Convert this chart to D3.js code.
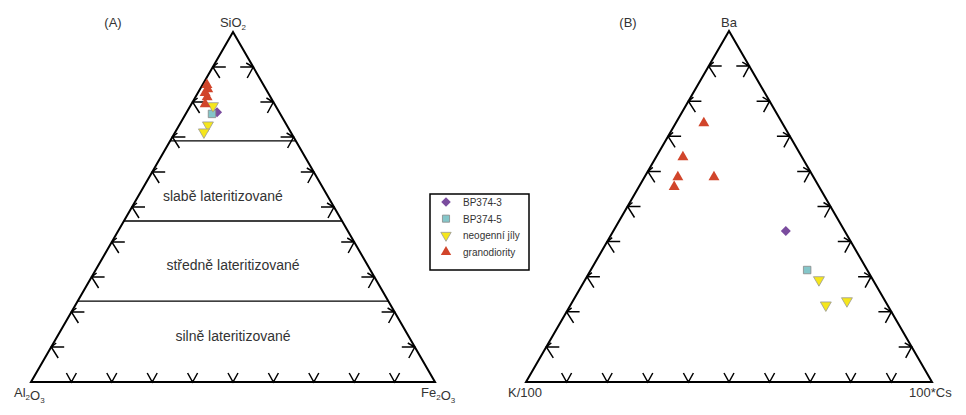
<!DOCTYPE html>
<html>
<head>
<meta charset="utf-8">
<script src="https://cdn.jsdelivr.net/npm/d3@7"></script>
<style>
  html, body { margin: 0; padding: 0; background: #fff; }
  svg text { font-family: "Liberation Sans", Arial, sans-serif; fill: #333; }
</style>
</head>
<body>
<div id="chart"></div>
<script>
// Diagram A: [SiO2, Al2O3, Fe2O3] in %
const bp3A = [[77.1, 15.4, 7.5]];
const bp5A = [[76.6, 16.9, 6.5]];
const jilyA = [[78.9, 15.5, 5.6], [73.4, 19.5, 7.1], [71.4, 21.5, 7.1]];
const granA = [[84.9, 14.0, 1.1], [83.7, 14.4, 1.9], [82.6, 15.6, 1.8], [81.4, 15.7, 2.9], [79.4, 17.2, 3.4]];
// lateritization boundaries (SiO2 %)
const zoneLines = [68.9, 46.0, 23.1];
const zoneLabels = ['slabě lateritizované', 'středně lateritizované', 'silně lateritizované'];
// label anchor [Fe2O3-ish horizontal %, SiO2 %]
const zoneLabelAt = [[47.5, 53.1], [50, 33.4], [50, 13.1]];

// Diagram B: [Ba, K/100, 100*Cs] in %
const bp3B = [[43.0, 14.5, 42.5]];
const bp5B = [[31.9, 14.8, 53.3]];
const jilyB = [[29.1, 13.3, 57.6], [21.9, 15.2, 62.9], [23.1, 9.4, 67.5]];
const granB = [[73.8, 19.3, 6.9], [64.1, 29.3, 6.6], [58.4, 33.4, 8.2], [58.4, 24.5, 17.1], [55.6, 35.7, 8.7]];

const tickSteps = [10, 20, 30, 40, 50, 60, 70, 80, 90];
const legendNames = ['BP374-3', 'BP374-5', 'neogenní jíly', 'granodiority'];

const W = 966, H = 415;
const svg = d3.select('#chart').append('svg')
  .attr('width', W).attr('height', H);

const styles = [
  { type: d3.symbolSquare, size: 50, rot: 45, fill: '#7a4c9e', stroke: 'none' },
  { type: d3.symbolSquare, size: 56, rot: 0, fill: '#84c6c9', stroke: '#888' },
  { type: d3.symbolTriangle, size: 52, rot: 180, fill: '#f5e61c', stroke: '#999' },
  { type: d3.symbolTriangle, size: 52, rot: 0, fill: '#d1452b', stroke: 'none' }
];

function label(g, x, y, parts, anchor) {
  const t = g.append('text').attr('x', x).attr('y', y)
    .attr('text-anchor', anchor || 'middle').style('font-size', '13px');
  parts.forEach(p => {
    if (typeof p === 'string') {
      t.append('tspan').text(p);
    } else {
      t.append('tspan').attr('dy', 3).style('font-size', '8px').text(p.sub);
      t.append('tspan').attr('dy', -3).text('');
    }
  });
  return t;
}

function drawTernary(cfg) {
  const g = svg.append('g');
  const [L, R, T] = [cfg.left, cfg.right, cfg.top];
  const xs = d3.scaleLinear().domain([0, 100]).range([L[0], R[0]]);
  const ys = d3.scaleLinear().domain([0, 100]).range([L[1], T[1]]);
  // top component + right component -> pixel
  const proj = (top, right) => [xs(right + top / 2), ys(top)];

  // zone lines
  (cfg.zones || []).forEach(v => {
    const a = proj(v, 0), b = proj(v, 100 - v);
    g.append('line').attr('x1', a[0]).attr('y1', a[1]).attr('x2', b[0]).attr('y2', b[1])
      .attr('stroke', '#000').attr('stroke-width', 1.3);
  });
  (cfg.zoneText || []).forEach((txt, i) => {
    const at = cfg.zoneAt[i];
    g.append('text').attr('x', xs(at[0])).attr('y', ys(at[1]) + 5)
      .attr('text-anchor', 'middle').style('font-size', '14px').text(txt);
  });

  // ticks
  const tk = d3.path();
  tickSteps.forEach(v => {
    // left edge
    let p = proj(v, 0);
    tk.moveTo(p[0] + 13, p[1]); tk.lineTo(p[0], p[1]);
    tk.moveTo(p[0] + 5, p[1] - 4); tk.lineTo(p[0], p[1]); tk.lineTo(p[0] + 7, p[1] + 11);
    // right edge
    p = proj(v, 100 - v);
    tk.moveTo(p[0] - 13, p[1]); tk.lineTo(p[0], p[1]);
    tk.moveTo(p[0] - 7, p[1] - 4); tk.lineTo(p[0], p[1]); tk.lineTo(p[0] - 6, p[1] + 11);
    // bottom edge
    p = proj(0, v);
    tk.moveTo(p[0] - 5, p[1] - 9); tk.lineTo(p[0], p[1]); tk.lineTo(p[0] + 5, p[1] - 9);
  });
  g.append('path').attr('d', tk.toString()).attr('fill', 'none')
    .attr('stroke', '#000').attr('stroke-width', 1.5);

  // outline
  g.append('path').attr('d', d3.line()([L, R, T]) + 'Z')
    .attr('fill', 'none').attr('stroke', '#000').attr('stroke-width', 2).attr('stroke-linejoin', 'miter');

  // points
  cfg.series.forEach((pts, i) => {
    const s = styles[i];
    g.selectAll(null).data(pts).enter().append('path')
      .attr('d', d3.symbol().type(s.type).size(s.size))
      .attr('transform', d => {
        const p = proj(d[0], d[2]);
        return `translate(${p[0]},${p[1]}) rotate(${s.rot})`;
      })
      .attr('fill', s.fill).attr('stroke', s.stroke).attr('stroke-width', 0.8);
  });

  // labels
  label(g, cfg.panel[0], cfg.panel[1], [cfg.panel[2]]);
  label(g, T[0], 27, cfg.labels.top);
  label(g, cfg.labels.lx, 397, cfg.labels.left, 'start');
  label(g, cfg.labels.rx, 397, cfg.labels.right, 'start');
}

drawTernary({
  left: [31, 382], right: [435, 382], top: [233, 32],
  zones: zoneLines,
  zoneText: zoneLabels,
  zoneAt: zoneLabelAt,
  series: [bp3A, bp5A, jilyA, granA],
  panel: [113, 27, '(A)'],
  labels: {
    top: ['SiO', { sub: '2' }],
    left: ['Al', { sub: '2' }, 'O', { sub: '3' }], lx: 14,
    right: ['Fe', { sub: '2' }, 'O', { sub: '3' }], rx: 421
  }
});

drawTernary({
  left: [526, 382], right: [932, 382], top: [729, 31],
  series: [bp3B, bp5B, jilyB, granB],
  panel: [628, 27, '(B)'],
  labels: {
    top: ['Ba'],
    left: ['K/100'], lx: 508,
    right: ['100*Cs'], rx: 909
  }
});

// legend
const lg = svg.append('g').attr('transform', 'translate(430,194)');
lg.append('rect').attr('width', 99).attr('height', 76)
  .attr('fill', '#fff').attr('stroke', '#000').attr('stroke-width', 1.5);
const rowY = d3.scalePoint().domain(legendNames).range([8, 58]);
legendNames.forEach((name, i) => {
  const s = styles[i];
  lg.append('path').attr('d', d3.symbol().type(s.type).size(s.size * 0.9))
    .attr('transform', `translate(16,${rowY(name)}) rotate(${s.rot})`)
    .attr('fill', s.fill).attr('stroke', s.stroke).attr('stroke-width', 0.8);
  lg.append('text').attr('x', 33).attr('y', rowY(name) + 4)
    .style('font-size', '10px').text(name);
});
</script>
</body>
</html>
